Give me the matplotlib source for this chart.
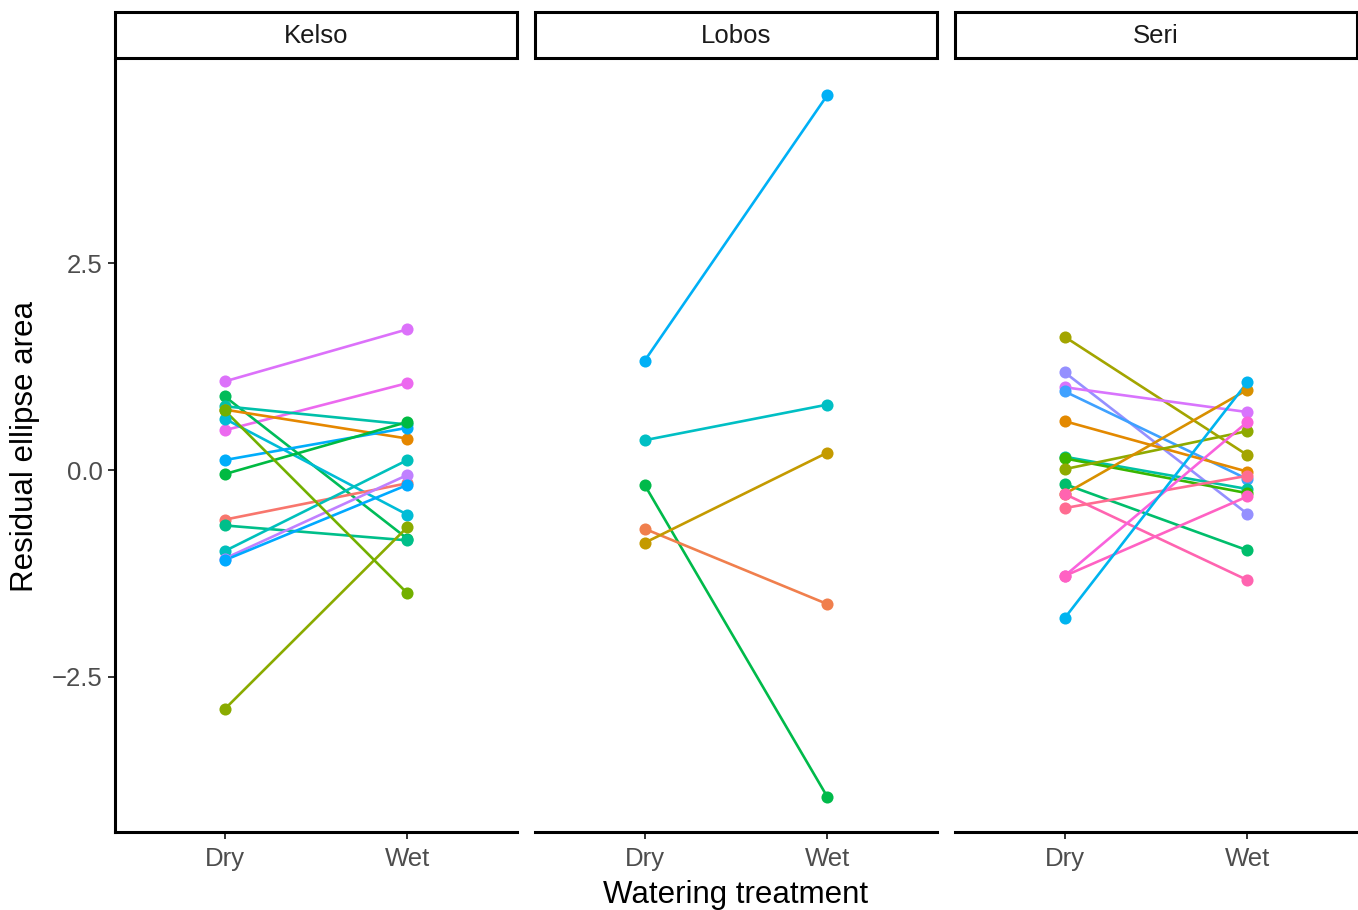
import numpy as np
import matplotlib
matplotlib.use("Agg")
from matplotlib import pyplot as plt
from matplotlib.patches import Rectangle

plt.rcParams["font.family"] = ["Liberation Sans", "DejaVu Sans"]

treatments = ["Dry", "Wet"]
sites = ["Kelso", "Lobos", "Seri"]

# Kelso individuals
kelso_dry = [1.07, 0.48, 0.89, 0.77, 0.73, 0.62, 0.12, -0.05, -0.60, -0.67, -0.98, -1.07, -1.09, -2.89, 0.72]
kelso_wet = [1.70, 1.05, -0.83, 0.55, 0.38, -0.54, 0.51, 0.58, -0.16, -0.85, 0.12, -0.06, -0.18, -0.69, -1.49]
kelso_col = ["#DC71FA", "#EC69EF", "#00BC59", "#00C0A9", "#E58700", "#00BCD6", "#00ADFA", "#00BA42",
             "#F8766D", "#00BF8A", "#00C0BC", "#C080FF", "#00A9FF", "#8AAB00", "#72B000"]

# Lobos individuals
lobos_dry = [1.32, 0.36, -0.18, -0.71, -0.88]
lobos_wet = [4.53, 0.79, -3.95, -1.62, 0.21]
lobos_col = ["#00B0F6", "#00BFC4", "#00BA4A", "#F07F4D", "#C49A00"]

# Seri individuals
seri_dry = [1.61, 1.18, 1.00, 0.95, 0.59, 0.16, 0.14, 0.01, -0.17, -0.29, -0.29, -0.46, -1.28, -1.28, -1.79]
seri_wet = [0.18, -0.53, 0.70, -0.11, -0.02, -0.23, -0.28, 0.47, -0.97, 0.97, -1.33, -0.07, 0.58, -0.32, 1.06]
seri_col = ["#A3A500", "#9590FF", "#D874FD", "#3FA1FF", "#E38900", "#00C1A3", "#39B600", "#8FAA00",
            "#00BE6C", "#D89000", "#FF64B0", "#FF6C91", "#F962DD", "#FF61C3", "#00B4EF"]

panels = [(kelso_dry, kelso_wet, kelso_col),
          (lobos_dry, lobos_wet, lobos_col),
          (seri_dry, seri_wet, seri_col)]

all_vals = np.concatenate([np.r_[d, w] for d, w, _ in panels])
lo, hi = all_vals.min(), all_vals.max()
pad = 0.05 * (hi - lo)

W, H = 1358, 910
fig = plt.figure(figsize=(W / 100, H / 100), dpi=100)

lefts = [115, 535, 955]
pw = 402
top, bottom = 60, 832

for i, (site, (dry, wet, cols)) in enumerate(zip(sites, panels)):
    ax = fig.add_axes([lefts[i] / W, (H - bottom) / H, pw / W, (bottom - top) / H])
    for d, w, c in zip(dry, wet, cols):
        ax.plot([0, 1], [d, w], color=c, lw=1.9, solid_capstyle="butt", zorder=2)
    for d, w, c in zip(dry, wet, cols):
        ax.plot([0, 1], [d, w], ls="none", marker="o", ms=8.7, color=c, mec="none", zorder=3)

    ax.set_xlim(-0.6, 1.6)
    ax.set_ylim(lo - pad, hi + pad)
    ax.set_xticks([0, 1])
    ax.set_xticklabels(treatments)
    ax.set_yticks([-2.5, 0, 2.5])
    ax.set_yticklabels(["\u22122.5", "0.0", "2.5"])

    for s in ["top", "right"]:
        ax.spines[s].set_visible(False)
    ax.spines["bottom"].set_linewidth(2.2)
    ax.spines["left"].set_linewidth(2.2)
    ax.tick_params(axis="both", colors="#333333", width=1.4, length=5,
                   labelsize=18.5, labelcolor="#4D4D4D", pad=4)
    ax.tick_params(axis="x", pad=6)
    if i > 0:
        ax.spines["left"].set_visible(False)
        ax.tick_params(axis="y", left=False, labelleft=False)

    # strip
    y0 = (bottom - 58) / (bottom - top)
    y1 = (bottom - 12) / (bottom - top)
    ax.add_patch(Rectangle((0, y0), 1, y1 - y0, transform=ax.transAxes,
                           facecolor="white", edgecolor="black", lw=2.2, clip_on=False))
    ax.text(0.5, (bottom - 36) / (bottom - top), site, transform=ax.transAxes,
            ha="center", va="center", fontsize=18.5, color="#1A1A1A")

fig.text(736 / W, 1 - 895 / H, "Watering treatment", ha="center", va="center", fontsize=22.5)
fig.text(25 / W, 1 - 446 / H, "Residual ellipse area", ha="center", va="center",
         rotation=90, fontsize=22.5)

fig.savefig("out.png", dpi=100)
